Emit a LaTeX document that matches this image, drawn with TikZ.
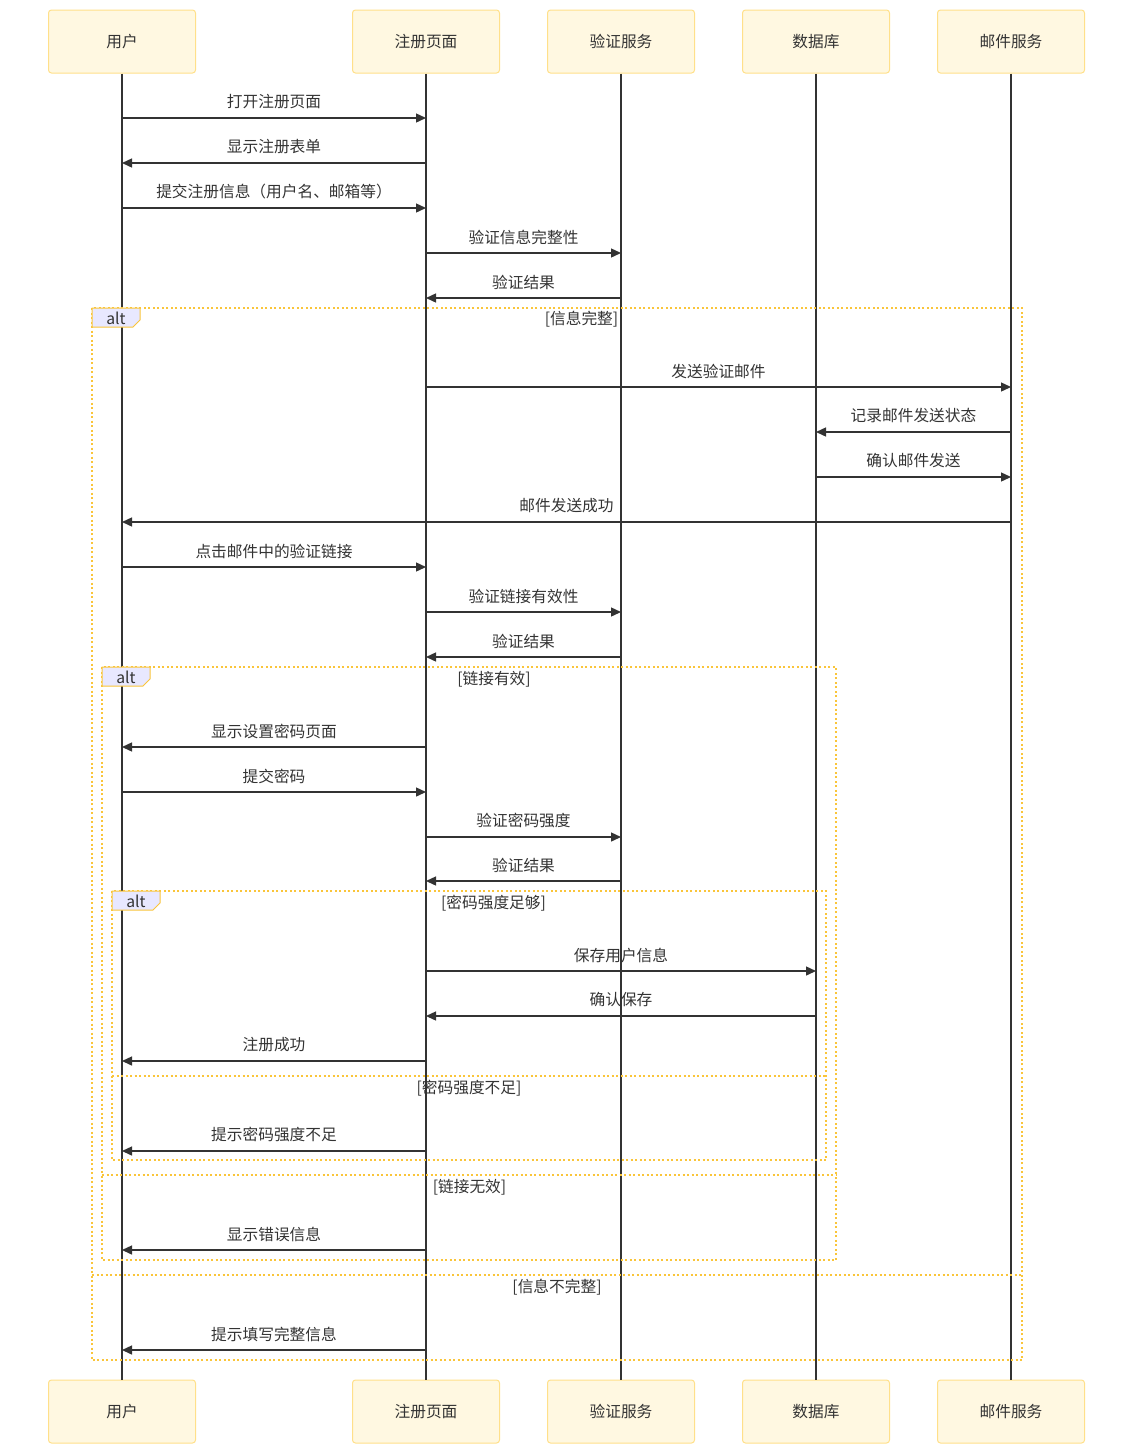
\documentclass[tikz,border=0pt]{standalone}
\usepackage{fontspec}
\setmainfont{Noto Sans CJK SC}
\usetikzlibrary{arrows.meta}
\definecolor{boxfill}{HTML}{FFF8E1}
\definecolor{boxline}{HTML}{FFE08A}
\definecolor{frameline}{HTML}{FAC53A}
\definecolor{tabfill}{HTML}{E8E8FF}
\definecolor{ink}{HTML}{333333}

\tikzset{
  actor/.style={draw=boxline, fill=boxfill, line width=1pt, rounded corners=3pt,
    minimum width=147pt, minimum height=63pt, text=ink, font=\fontsize{15.7pt}{18pt}\selectfont},
  life/.style={draw=ink, line width=2pt},
  msgline/.style={draw=ink, line width=1.4pt, -{Triangle[length=10pt,width=9pt]}},
  msgtext/.style={text=ink, inner sep=0pt, font=\fontsize{15.7pt}{18pt}\selectfont},
  altframe/.style={draw=frameline, line width=2.2pt, dash pattern=on 2pt off 2.5pt},
  alttab/.style={draw=frameline, fill=tabfill, line width=1pt},
  guard/.style={text=ink, inner sep=0pt, font=\fontsize{15.7pt}{18pt}\selectfont}
}

% message between two lifelines at height #3
\newcommand\msg[4]{\draw[msgline] (#1 |- 0,#3) -- (#2 |- 0,#3)
  node[msgtext, midway, yshift=16pt] {#4};}
% alt frame with its tab
\newcommand\altframe[4]{%
  \draw[altframe] (#1,#2) rectangle (#3,#4);
  \filldraw[alttab] (#1,#2) -- ++(48,0) -- ++(0,12) -- ++(-7,7) -- ++(-41,0) -- cycle;
  \node[guard] at (#1+24,#2+10) {alt};}

\begin{document}
\begin{tikzpicture}[x=1pt,y=-1pt]
  \useasboundingbox (0,0) rectangle (1134,1454);

  % participants
  \node[actor] (user) at (122,41.5) {用户};
  \node[actor] (regpage) at (426,41.5) {注册页面};
  \node[actor] (verifier) at (621,41.5) {验证服务};
  \node[actor] (database) at (816,41.5) {数据库};
  \node[actor] (mailer) at (1011,41.5) {邮件服务};
  \node[actor] (user2) at (122,1411.5) {用户};
  \node[actor] (regpage2) at (426,1411.5) {注册页面};
  \node[actor] (verifier2) at (621,1411.5) {验证服务};
  \node[actor] (database2) at (816,1411.5) {数据库};
  \node[actor] (mailer2) at (1011,1411.5) {邮件服务};

  % lifelines
  \draw[life] (user) -- (user2);
  \draw[life] (regpage) -- (regpage2);
  \draw[life] (verifier) -- (verifier2);
  \draw[life] (database) -- (database2);
  \draw[life] (mailer) -- (mailer2);

  % frames
  \altframe{92}{308}{1022}{1360}
  \node[guard] at (581.5,319) {[信息完整]};
  \draw[altframe] (92,1275) -- (1022,1275);
  \node[guard] at (557,1287) {[信息不完整]};

  \altframe{102}{667}{836}{1260}
  \node[guard] at (494,679) {[链接有效]};
  \draw[altframe] (102,1175) -- (836,1175);
  \node[guard] at (469.5,1187) {[链接无效]};

  \altframe{112}{891}{826}{1160}
  \node[guard] at (493.5,903) {[密码强度足够]};
  \draw[altframe] (112,1076) -- (826,1076);
  \node[guard] at (469,1088) {[密码强度不足]};

  % messages
  \msg{user}{regpage}{118}{打开注册页面}
  \msg{regpage}{user}{163}{显示注册表单}
  \msg{user}{regpage}{208}{提交注册信息（用户名、邮箱等）}
  \msg{regpage}{verifier}{253}{验证信息完整性}
  \msg{verifier}{regpage}{298}{验证结果}
  \msg{regpage}{mailer}{387}{发送验证邮件}
  \msg{mailer}{database}{432}{记录邮件发送状态}
  \msg{database}{mailer}{477}{确认邮件发送}
  \msg{mailer}{user}{522}{邮件发送成功}
  \msg{user}{regpage}{567}{点击邮件中的验证链接}
  \msg{regpage}{verifier}{612}{验证链接有效性}
  \msg{verifier}{regpage}{657}{验证结果}
  \msg{regpage}{user}{747}{显示设置密码页面}
  \msg{user}{regpage}{792}{提交密码}
  \msg{regpage}{verifier}{837}{验证密码强度}
  \msg{verifier}{regpage}{881}{验证结果}
  \msg{regpage}{database}{971}{保存用户信息}
  \msg{database}{regpage}{1016}{确认保存}
  \msg{regpage}{user}{1061}{注册成功}
  \msg{regpage}{user}{1151}{提示密码强度不足}
  \msg{regpage}{user}{1250}{显示错误信息}
  \msg{regpage}{user}{1350}{提示填写完整信息}
\end{tikzpicture}
\end{document}
